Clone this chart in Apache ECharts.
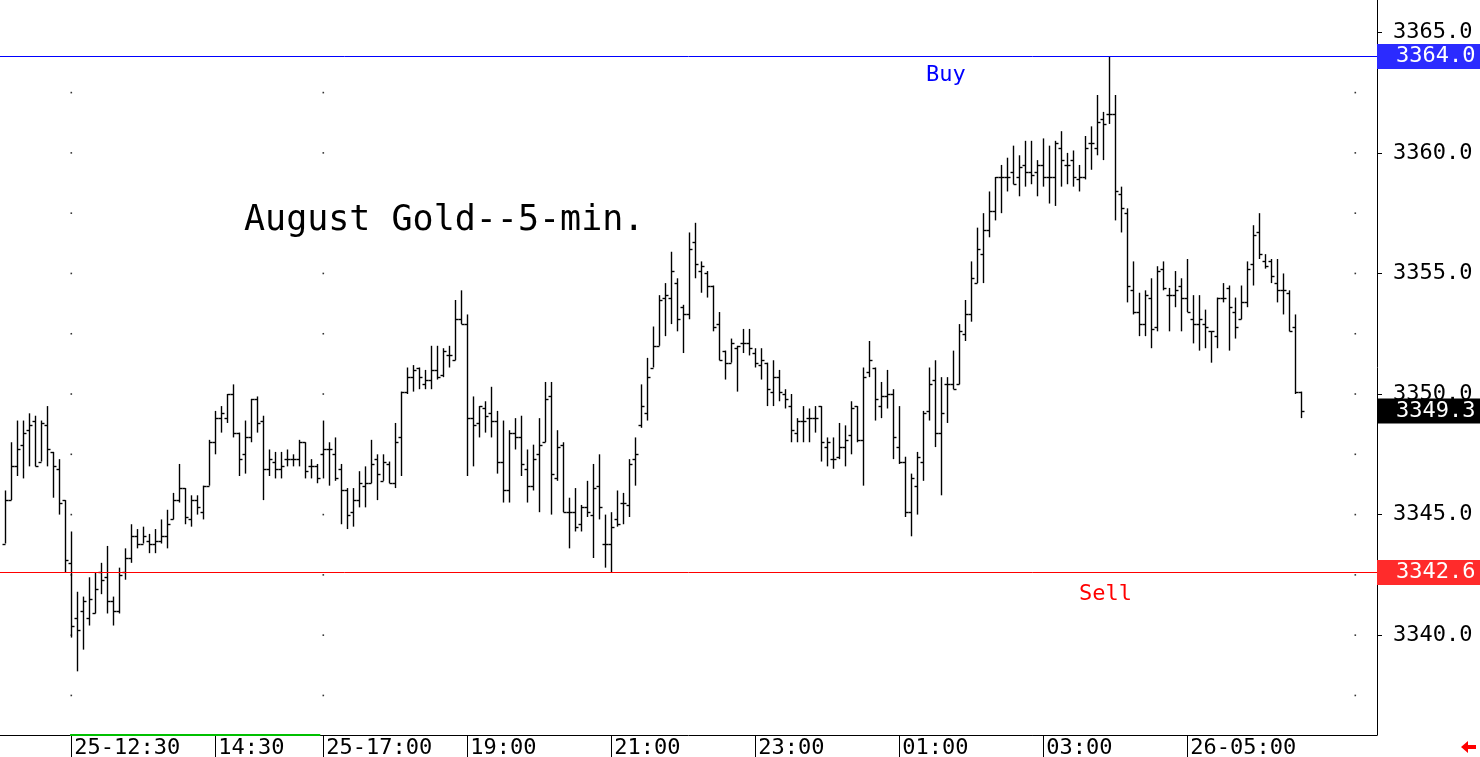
<!DOCTYPE html>
<html>
<head>
<meta charset="utf-8">
<script src="https://cdn.jsdelivr.net/npm/echarts@6/dist/echarts.min.js"></script>
<style>
html,body{margin:0;padding:0;background:#fff;}
#chart{width:1480px;height:757px;}
</style>
</head>
<body>
<div id="chart"></div>
<script>
// ---- DATA (5-min OHLC bars, index 0..216) ----
var opens = [
3343.8,3345.6,3347.0,3347.9,3348.5,3348.9,3347.2,3348.7,3347.6,3346.9,
3345.6,3343.0,3340.7,3341.0,3340.7,3340.9,3342.6,3342.4,3341.4,3341.0,
3342.6,3343.2,3344.1,3343.8,3343.9,3343.8,3343.9,3344.1,3344.8,3345.6,
3346.1,3344.8,3345.6,3345.1,3346.2,3348.0,3349.0,3349.0,3350.0,3348.4,
3347.5,3348.2,3349.8,3348.9,3346.9,3347.2,3346.9,3347.3,3347.3,3347.3,
3348.0,3347.0,3347.0,3347.5,3347.7,3347.5,3346.9,3346.0,3345.1,3345.6,
3346.2,3346.3,3347.3,3346.4,3347.1,3346.3,3348.2,3350.1,3350.7,3351.1,
3350.4,3350.6,3351.0,3350.8,3351.6,3351.4,3353.1,3352.9,3349.0,3348.8,
3349.4,3349.2,3348.9,3347.2,3346.0,3348.4,3348.2,3346.9,3346.2,3347.5,
3348.0,3349.9,3346.5,3347.9,3345.1,3345.1,3344.6,3345.3,3345.0,3346.2,
3343.8,3343.8,3344.8,3345.5,3345.4,3347.3,3348.7,3349.2,3351.1,3352.0,
3354.0,3354.0,3354.6,3353.6,3353.3,3356.3,3355.1,3355.0,3354.5,3352.9,
3351.8,3351.3,3351.9,3352.1,3352.1,3351.7,3351.2,3351.3,3350.1,3350.7,
3350.0,3349.5,3348.4,3348.9,3349.0,3349.0,3349.5,3347.8,3347.3,3347.4,
3347.8,3348.3,3349.5,3348.1,3350.9,3351.1,3349.5,3349.9,3350.0,3347.8,
3347.2,3345.1,3346.2,3347.2,3349.3,3350.6,3348.4,3350.4,3350.4,3350.4,
3352.5,3353.3,3354.6,3355.8,3356.8,3357.6,3359.0,3359.0,3359.2,3359.0,
3359.5,3359.2,3359.2,3359.5,3359.0,3359.0,3360.2,3359.5,3359.7,3358.9,
3359.0,3360.4,3360.2,3361.4,3361.6,3361.6,3358.3,3357.5,3354.3,3353.4,
3352.9,3354.0,3352.8,3355.2,3354.1,3354.1,3354.5,3354.0,3353.1,3352.9,
3352.9,3352.6,3352.4,3354.0,3354.4,3353.4,3353.1,3353.8,3355.4,3356.7,
3355.5,3355.5,3354.6,3354.3,3354.2,3352.8,3350.1
];
var highs = [
3346.0,3348.0,3348.9,3348.9,3349.2,3349.1,3348.9,3349.5,3347.6,3347.3,
3345.6,3344.3,3341.8,3341.6,3342.4,3342.6,3343.0,3343.7,3341.6,3342.8,
3343.6,3344.6,3344.4,3344.5,3344.2,3344.4,3344.8,3345.2,3345.9,3347.1,
3346.1,3345.8,3345.8,3346.2,3348.1,3349.3,3349.5,3350.0,3350.4,3348.4,
3348.9,3349.8,3349.9,3349.1,3347.7,3347.6,3347.6,3347.7,3347.5,3348.1,
3348.0,3347.3,3347.1,3348.9,3348.0,3348.2,3347.1,3346.1,3346.1,3346.8,
3347.0,3348.1,3347.5,3347.5,3347.2,3348.8,3350.1,3351.1,3351.2,3351.1,
3351.0,3352.0,3352.0,3351.9,3352.0,3353.9,3354.3,3353.3,3349.9,3349.5,
3349.7,3350.3,3349.3,3348.9,3348.5,3349.0,3349.1,3347.7,3347.9,3349.0,
3350.5,3350.5,3348.5,3348.0,3345.7,3346.1,3345.4,3346.4,3347.1,3347.5,
3345.0,3345.1,3346.0,3345.9,3347.3,3348.2,3350.4,3351.5,3352.8,3354.1,
3354.6,3355.9,3354.8,3353.7,3356.7,3357.1,3355.5,3355.1,3354.5,3353.4,
3351.8,3352.3,3352.0,3352.7,3352.7,3351.9,3351.9,3351.3,3351.4,3351.0,
3350.2,3350.0,3349.0,3349.5,3349.4,3349.5,3349.5,3348.2,3348.2,3348.8,
3348.7,3349.7,3349.5,3351.1,3352.2,3351.1,3350.5,3351.0,3350.2,3349.5,
3347.4,3346.7,3347.6,3349.3,3351.1,3351.4,3350.7,3350.7,3351.8,3352.9,
3353.9,3355.5,3356.9,3357.5,3358.4,3359.0,3359.5,3359.8,3360.3,3359.9,
3360.5,3360.5,3359.7,3360.6,3360.3,3360.5,3360.9,3360.0,3360.1,3359.5,
3360.7,3361.1,3362.4,3361.7,3364.0,3362.4,3358.6,3357.7,3355.5,3354.2,
3354.3,3354.8,3355.3,3355.5,3354.4,3355.1,3354.8,3355.6,3354.1,3354.1,
3353.5,3352.6,3354.0,3354.6,3354.5,3354.0,3354.5,3355.5,3357.0,3357.5,
3355.8,3355.6,3355.6,3355.0,3354.3,3353.3,3350.1
];
var lows = [
3343.8,3345.6,3346.6,3346.5,3347.0,3347.0,3347.2,3347.0,3345.7,3345.0,
3342.6,3339.9,3338.5,3339.4,3340.4,3340.9,3341.7,3340.9,3340.4,3340.9,
3342.3,3343.0,3343.6,3343.8,3343.4,3343.4,3343.8,3343.6,3344.8,3345.5,
3344.6,3344.5,3345.0,3344.8,3346.2,3347.5,3348.4,3348.8,3348.2,3346.6,
3346.7,3348.0,3348.4,3345.6,3346.6,3346.5,3346.5,3347.0,3347.0,3347.0,
3346.5,3346.5,3346.3,3346.5,3346.2,3346.4,3344.6,3344.4,3344.5,3345.3,
3345.3,3346.3,3345.6,3346.4,3346.3,3346.1,3346.6,3350.0,3350.1,3350.2,
3350.2,3350.2,3350.6,3350.7,3351.1,3351.4,3352.9,3346.6,3347.0,3348.2,
3348.4,3348.2,3346.7,3345.5,3345.5,3347.7,3346.6,3345.5,3346.0,3345.1,
3348.0,3345.0,3346.4,3345.1,3343.6,3344.3,3344.3,3344.9,3343.2,3344.8,
3342.8,3342.6,3344.5,3344.6,3344.9,3346.2,3348.6,3348.9,3351.1,3352.0,
3352.4,3352.9,3352.6,3351.7,3353.1,3354.8,3354.2,3354.0,3352.6,3351.4,
3350.6,3351.3,3350.1,3351.7,3351.6,3351.1,3350.6,3349.5,3349.5,3349.7,
3349.4,3348.0,3348.0,3348.0,3348.0,3348.4,3347.2,3347.0,3346.9,3347.3,
3347.0,3347.5,3348.0,3346.2,3350.7,3348.9,3349.0,3349.4,3347.3,3347.1,
3344.9,3344.1,3345.0,3346.4,3348.9,3347.8,3345.8,3348.8,3350.2,3350.4,
3352.2,3353.0,3354.6,3354.6,3356.5,3357.2,3357.5,3358.4,3358.7,3358.2,
3358.6,3358.7,3358.2,3358.6,3357.9,3357.8,3358.6,3358.7,3358.6,3358.4,
3358.9,3359.3,3359.9,3359.7,3361.2,3357.2,3356.7,3353.8,3353.3,3352.4,
3352.4,3351.9,3352.6,3354.3,3352.6,3353.6,3352.6,3353.4,3352.1,3351.8,
3351.9,3351.3,3351.9,3353.8,3351.8,3352.3,3353.1,3353.6,3354.5,3355.6,
3355.2,3354.6,3353.8,3353.3,3352.6,3350.0,3349.0
];
var closes = [
3345.6,3347.0,3347.7,3348.4,3348.7,3347.0,3348.8,3347.7,3347.0,3345.5,
3343.1,3340.4,3340.2,3341.4,3341.5,3341.9,3342.3,3341.4,3341.0,3342.5,
3343.2,3344.1,3343.8,3344.1,3343.8,3343.9,3344.1,3344.6,3345.6,3346.1,
3344.9,3345.6,3345.3,3346.2,3348.0,3349.0,3349.2,3350.0,3348.4,3347.3,
3348.2,3349.8,3348.8,3346.9,3347.3,3346.9,3347.0,3347.3,3347.3,3348.0,
3346.8,3347.0,3346.5,3347.7,3347.7,3346.5,3346.0,3345.0,3345.6,3346.3,
3346.3,3347.1,3346.7,3347.2,3346.3,3348.0,3350.1,3350.7,3351.0,3350.7,
3350.6,3351.0,3350.7,3351.8,3351.6,3353.1,3352.9,3349.0,3348.7,3349.5,
3349.1,3348.9,3347.2,3346.0,3348.4,3348.2,3347.1,3346.2,3347.3,3347.9,
3349.8,3346.7,3347.8,3345.1,3345.1,3344.5,3345.3,3345.1,3346.1,3345.3,
3343.8,3344.5,3344.6,3345.5,3347.1,3347.5,3349.5,3350.7,3352.0,3353.9,
3354.1,3355.1,3353.1,3353.3,3356.0,3355.4,3355.3,3354.5,3352.8,3351.4,
3351.3,3352.1,3352.0,3352.1,3351.9,3351.3,3351.4,3350.2,3350.7,3350.1,
3349.8,3348.5,3348.9,3348.9,3349.0,3349.0,3348.0,3348.0,3347.3,3347.8,
3348.1,3349.4,3348.1,3350.7,3351.4,3349.8,3349.9,3350.0,3348.2,3347.2,
3345.1,3346.5,3347.4,3349.2,3350.4,3348.4,3349.2,3350.4,3350.2,3352.6,
3353.3,3354.8,3356.0,3356.8,3357.6,3359.0,3359.0,3359.0,3358.7,3359.4,
3359.2,3359.1,3359.5,3359.0,3359.0,3360.4,3359.7,3359.5,3359.0,3359.0,
3360.2,3360.4,3361.3,3361.2,3361.6,3358.4,3357.7,3354.5,3353.4,3352.9,
3354.1,3352.7,3355.1,3354.4,3354.1,3354.3,3354.0,3353.4,3352.9,3353.1,
3352.8,3352.6,3354.0,3354.0,3353.6,3352.8,3353.8,3355.2,3356.6,3355.8,
3355.3,3354.9,3354.3,3354.3,3352.6,3350.1,3349.3
];
// time-axis tick positions (bar index) and their labels
var timeTickIdx = [11, 35, 53, 77, 101, 125, 149, 173, 197];
var timeTickLabels = ['25-12:30', '14:30', '25-17:00', '19:00', '21:00', '23:00', '01:00', '03:00', '26-05:00'];
// price axis labels
var priceTicks = [3340, 3345, 3350, 3355, 3360, 3365];
// dotted grid: columns (bar index) and rows (price)
var gridCols = [11, 53, 225];
var gridRows = [3337.5, 3340, 3342.5, 3345, 3347.5, 3350, 3352.5, 3355, 3357.5, 3360, 3362.5];
// highlighted session on the time axis (bar index range)
var sessionSpan = [10.8, 52.5];
var buyLevel = 3364.0;
var sellLevel = 3342.6;
var lastPrice = 3349.3;
var titleText = 'August Gold--5-min.';

// ---- CHART ----
var FONT = '"DejaVu Sans Mono", monospace';
var barData = [];
for (var i = 0; i < opens.length; i++) {
  barData.push([i, opens[i], highs[i], lows[i], closes[i]]);
}
var dotData = [];
gridCols.forEach(function (c) { gridRows.forEach(function (r) { dotData.push([c, r]); }); });
var yMin = 3335.86, yMax = 3366.34;

function boxLabel(val, bg) {
  return {show: true, position: 'end', distance: 0, formatter: val.toFixed(1), color: '#fff',
    backgroundColor: bg, padding: [2, 5, 1, 19], fontFamily: FONT, fontSize: 22};
}

var chart = echarts.init(document.getElementById('chart'), null, {renderer: 'canvas'});
var option = {
  animation: false,
  backgroundColor: '#ffffff',
  title: {
    text: titleText,
    left: 239, top: 198,
    textStyle: {fontFamily: FONT, fontSize: 35, fontWeight: 'normal', color: '#000'}
  },
  grid: {left: 0, right: 103, top: 0, bottom: 22, containLabel: false, outerBoundsMode: 'none'},
  xAxis: {
    type: 'value',
    min: -0.883, max: 228.617,
    axisLine: {show: true, onZero: false, lineStyle: {color: '#000', width: 1}},
    axisTick: {show: true, customValues: timeTickIdx, length: 22, lineStyle: {color: '#000'}},
    axisLabel: {
      show: true, customValues: timeTickIdx, margin: 2, align: 'left', padding: [0, 0, 0, 3],
      fontFamily: FONT, fontSize: 22, color: '#000',
      formatter: function (v) { var j = timeTickIdx.indexOf(Math.round(v)); return j >= 0 ? timeTickLabels[j] : ''; }
    },
    splitLine: {show: false}
  },
  yAxis: {
    type: 'value',
    position: 'right',
    min: yMin, max: yMax,
    axisLine: {show: true, onZero: false, lineStyle: {color: '#000', width: 1}},
    axisTick: {show: true, customValues: priceTicks, length: 5, lineStyle: {color: '#000'}},
    axisLabel: {
      show: true, customValues: priceTicks, margin: 16,
      fontFamily: FONT, fontSize: 22, color: '#000',
      formatter: function (v) { return v.toFixed(1); }
    },
    splitLine: {show: false}
  },
  series: [{
    type: 'scatter',
    data: dotData,
    symbol: 'rect',
    symbolSize: 1.6,
    itemStyle: {color: '#000'},
    silent: true,
    z: 1
  }, {
    type: 'custom',
    data: barData,
    encode: {x: 0, y: [1, 2, 3, 4]},
    clip: false,
    z: 3,
    renderItem: function (params, api) {
      var idx = api.value(0);
      var o = api.coord([idx, api.value(1)]);
      var h = api.coord([idx, api.value(2)]);
      var l = api.coord([idx, api.value(3)]);
      var c = api.coord([idx, api.value(4)]);
      var x = Math.round(h[0]) + 0.5;
      var st = {stroke: '#000', lineWidth: 1.4};
      return {
        type: 'group',
        children: [
          {type: 'line', shape: {x1: x, y1: h[1], x2: x, y2: l[1]}, style: st},
          {type: 'line', shape: {x1: x - 3, y1: Math.round(o[1]) + 0.5, x2: x, y2: Math.round(o[1]) + 0.5}, style: st},
          {type: 'line', shape: {x1: x, y1: Math.round(c[1]) + 0.5, x2: x + 3, y2: Math.round(c[1]) + 0.5}, style: st}
        ]
      };
    },
    markLine: {
      silent: true, symbol: 'none', animation: false,
      data: [
        {yAxis: buyLevel, lineStyle: {color: '#0000ff', width: 1, type: 'solid'}, label: boxLabel(buyLevel, '#2b2bff')},
        {yAxis: sellLevel, lineStyle: {color: '#ff0000', width: 1, type: 'solid'}, label: boxLabel(sellLevel, '#ff2b2b')},
        {yAxis: lastPrice, lineStyle: {color: 'rgba(0,0,0,0)', width: 0}, label: boxLabel(lastPrice, '#000000')},
        [{coord: [sessionSpan[0], yMin], lineStyle: {color: '#00c000', width: 2, type: 'solid'}, label: {show: false}},
         {coord: [sessionSpan[1], yMin]}]
      ]
    }
  }],
  graphic: [
    {type: 'text', left: 926, top: 64, style: {text: 'Buy', fill: '#0000ff', font: '22px ' + FONT}},
    {type: 'text', left: 1079, top: 583, style: {text: 'Sell', fill: '#ff0000', font: '22px ' + FONT}},
    {type: 'polygon', shape: {points: [[1461, 747], [1468, 741], [1468, 745], [1476, 745], [1476, 749], [1468, 749], [1468, 753]]},
      style: {fill: '#ff0000'}}
  ]
};
chart.setOption(option);
</script>
</body>
</html>
